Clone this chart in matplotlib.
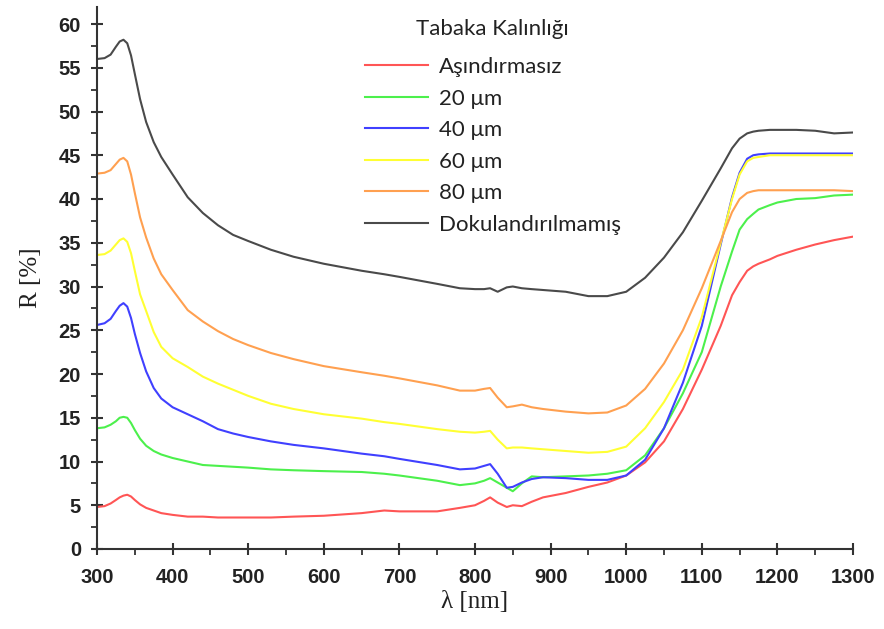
import matplotlib
matplotlib.use("Agg")
import matplotlib.pyplot as plt
from matplotlib.ticker import MultipleLocator

wavelength = [300, 310, 318, 325, 330, 335, 340, 345, 350, 357, 365, 375, 385, 400, 420, 440, 460, 480,
              500, 530, 560, 600, 650, 680, 700, 750, 780, 800, 812, 820, 830, 842, 850, 862, 875,
              890, 920, 950, 975, 1000, 1025, 1050, 1075, 1100, 1125, 1140, 1150, 1160, 1168, 1175,
              1190, 1200, 1225, 1250, 1275, 1300]

r_asindirmasiz = [4.8, 4.9, 5.2, 5.6, 5.9, 6.1, 6.2, 6.0, 5.6, 5.1, 4.7, 4.4, 4.1, 3.9, 3.7, 3.7, 3.6, 3.6,
                  3.6, 3.6, 3.7, 3.8, 4.1, 4.4, 4.3, 4.3, 4.7, 5.0, 5.5, 5.9, 5.3, 4.8, 5.0, 4.9, 5.4,
                  5.9, 6.4, 7.1, 7.6, 8.4, 9.9, 12.3, 16.0, 20.5, 25.5, 29.0, 30.5, 31.8, 32.3, 32.6,
                  33.1, 33.5, 34.2, 34.8, 35.3, 35.7]
r_20um = [13.8, 13.9, 14.2, 14.6, 15.0, 15.1, 15.0, 14.4, 13.6, 12.6, 11.8, 11.2, 10.8, 10.4, 10.0, 9.6, 9.5, 9.4,
          9.3, 9.1, 9.0, 8.9, 8.8, 8.6, 8.4, 7.8, 7.3, 7.5, 7.8, 8.1, 7.6, 7.0, 6.6, 7.5, 8.3,
          8.2, 8.3, 8.4, 8.6, 9.0, 10.7, 13.8, 17.8, 22.5, 30.0, 34.0, 36.5, 37.7, 38.3, 38.8,
          39.3, 39.6, 40.0, 40.1, 40.4, 40.5]
r_40um = [25.6, 25.8, 26.3, 27.2, 27.8, 28.1, 27.7, 26.4, 24.6, 22.4, 20.3, 18.4, 17.2, 16.2, 15.4, 14.6, 13.7, 13.2,
          12.8, 12.3, 11.9, 11.5, 10.9, 10.6, 10.3, 9.6, 9.1, 9.2, 9.5, 9.7, 8.6, 7.0, 7.1, 7.6, 8.0,
          8.2, 8.1, 7.9, 7.9, 8.4, 10.2, 13.8, 19.0, 25.5, 34.8, 40.2, 43.0, 44.6, 45.0, 45.1,
          45.2, 45.2, 45.2, 45.2, 45.2, 45.2]
r_60um = [33.6, 33.7, 34.1, 34.8, 35.3, 35.5, 35.1, 33.8, 31.8, 29.1, 27.2, 24.8, 23.1, 21.8, 20.8, 19.7, 18.9, 18.2,
          17.5, 16.6, 16.0, 15.4, 14.9, 14.5, 14.3, 13.7, 13.4, 13.3, 13.4, 13.5, 12.5, 11.5, 11.6, 11.6, 11.5,
          11.4, 11.2, 11.0, 11.1, 11.7, 13.8, 16.8, 20.5, 26.5, 35.0, 40.0, 42.8, 44.3, 44.7, 44.8,
          45.0, 45.0, 45.0, 45.0, 45.0, 45.0]
r_80um = [42.9, 43.0, 43.3, 44.0, 44.5, 44.7, 44.3, 42.8, 40.7, 37.9, 35.6, 33.2, 31.4, 29.6, 27.3, 26.0, 24.9, 24.0,
          23.3, 22.4, 21.7, 20.9, 20.2, 19.8, 19.5, 18.7, 18.1, 18.1, 18.3, 18.4, 17.3, 16.2, 16.3, 16.5, 16.2,
          16.0, 15.7, 15.5, 15.6, 16.4, 18.3, 21.2, 25.0, 29.8, 35.2, 38.5, 40.0, 40.7, 40.9, 41.0,
          41.0, 41.0, 41.0, 41.0, 41.0, 40.9]
r_dokulandirilmamis = [56.0, 56.1, 56.5, 57.4, 58.0, 58.2, 57.8, 56.4, 54.3, 51.4, 48.8, 46.5, 44.8, 42.8, 40.2, 38.4, 37.0, 35.9,
                       35.2, 34.2, 33.4, 32.6, 31.8, 31.4, 31.1, 30.3, 29.8, 29.7, 29.7, 29.8, 29.4, 29.9, 30.0, 29.8, 29.7,
                       29.6, 29.4, 28.9, 28.9, 29.4, 31.0, 33.3, 36.2, 39.8, 43.5, 45.8, 46.9, 47.5, 47.7, 47.8,
                       47.9, 47.9, 47.9, 47.8, 47.5, 47.6]

labels = ["Aşındırmasız", "20 μm", "40 μm", "60 μm", "80 μm", "Dokulandırılmamış"]
series = [r_asindirmasiz, r_20um, r_40um, r_60um, r_80um, r_dokulandirilmamis]
colors = ["#ff5555", "#4cf04c", "#4040ff", "#ffff33", "#ffa050", "#4a4a4a"]

x_ticks = [300, 400, 500, 600, 700, 800, 900, 1000, 1100, 1200, 1300]
y_ticks = [0, 5, 10, 15, 20, 25, 30, 35, 40, 45, 50, 55, 60]

fig = plt.figure(figsize=(8.84, 6.29), dpi=100)
ax = fig.add_axes([97 / 884, 1 - 549 / 629, 756 / 884, 542.5 / 629])

for vals, lab, c in zip(series, labels, colors):
    ax.plot(wavelength, vals, color=c, lw=1.5, label=lab)

ax.set_xlim(300, 1300)
ax.set_ylim(0, 62)
ax.set_xticks(x_ticks)
ax.set_yticks(y_ticks)
ax.xaxis.set_minor_locator(MultipleLocator(50))
ax.yaxis.set_minor_locator(MultipleLocator(2.5))

for s in ["top", "right"]:
    ax.spines[s].set_visible(False)
for s in ["left", "bottom"]:
    ax.spines[s].set_linewidth(1.5)
    ax.spines[s].set_color("#333333")

ax.tick_params(which="major", direction="inout", length=9, width=1.5, color="#333333")
ax.tick_params(axis="x", which="major", pad=9)
ax.tick_params(axis="y", which="major", pad=7)
ax.tick_params(which="minor", direction="out", length=4, width=1.3, color="#333333")
for lab in ax.get_xticklabels() + ax.get_yticklabels():
    lab.set_family("Liberation Sans")
    lab.set_fontweight("bold")
    lab.set_fontsize(14.5)
    lab.set_color("#222222")

ax.set_xlabel("λ [nm]", family="Liberation Serif", fontsize=18, color="#222222", labelpad=3)
ax.set_ylabel("R [%]", family="Liberation Serif", fontsize=18, color="#222222", labelpad=12)

leg = ax.legend(title="Tabaka Kalınlığı", loc="upper left", bbox_to_anchor=(0.354, 0.977),
                frameon=False, borderpad=0, borderaxespad=0, handlelength=2.85,
                handletextpad=0.5, labelspacing=0.52,
                prop={"family": "Lato", "size": 16}, title_fontproperties={"family": "Lato", "size": 16})
leg._legend_box.sep = 13
for t in leg.get_texts():
    t.set_color("#222222")
leg.get_title().set_color("#222222")

fig.savefig("out.png", dpi=100)
